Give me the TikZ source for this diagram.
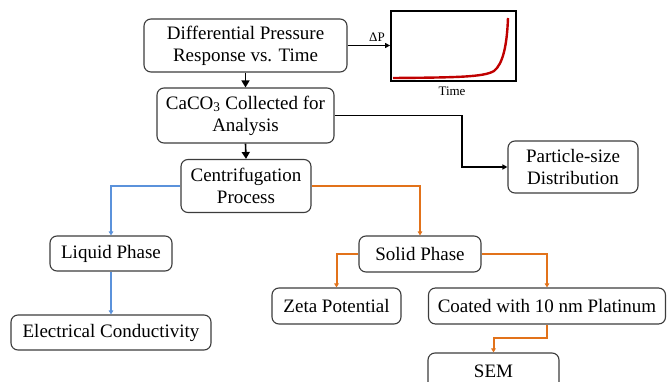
\documentclass[tikz,border=0pt]{standalone}
\usepackage{fontspec}
\setmainfont{Liberation Serif}
\usetikzlibrary{arrows.meta}
\definecolor{lblue}{RGB}{91,146,219}
\definecolor{lorange}{RGB}{226,114,26}
\definecolor{bordergray}{RGB}{60,60,60}
\definecolor{curvered}{RGB}{192,0,0}
\begin{document}
\begin{tikzpicture}[x=1pt,y=-1pt,
  box/.style={draw=bordergray, line width=1.1pt, rounded corners=7pt, fill=white,
    align=center, inner sep=0pt, font=\fontsize{19}{22}\selectfont},
  blk/.style={draw=black, line width=1.6pt, -{Triangle[length=7pt,width=8pt]}},
  thinblk/.style={draw=black, line width=1.3pt, -{Triangle[length=5pt,width=5pt]}},
  bl/.style={draw=lblue, line width=2pt, -{Triangle[length=4pt,width=4.5pt]}},
  org/.style={draw=lorange, line width=2pt, -{Triangle[length=4pt,width=4.5pt]}},
  small/.style={font=\fontsize{13}{15}\selectfont, inner sep=0pt}
]
\useasboundingbox (0,0) rectangle (667,382);
\begin{scope}
\clip (0,0) rectangle (667,382);
\node[box, minimum width=203pt, minimum height=53pt] (diff) at (245.5,45.5) {Differential Pressure\\Response vs. Time};
\node[box, minimum width=177pt, minimum height=55pt] (caco) at (245.5,115.5) {CaCO\textsubscript{3} Collected for\\Analysis};
\node[box, minimum width=130pt, minimum height=53pt] (centri) at (246,186) {Centrifugation\\Process};
\node[box, minimum width=130pt, minimum height=52pt] (particle) at (573,167) {Particle-size\\Distribution};
\node[box, minimum width=122pt, minimum height=35pt] (liquid) at (111,253.5) {Liquid Phase};
\node[box, minimum width=200pt, minimum height=35pt] (elec) at (111,332.5) {Electrical Conductivity};
\node[box, minimum width=122pt, minimum height=36pt] (solid) at (420,254) {Solid Phase};
\node[box, minimum width=129pt, minimum height=36pt] (zeta) at (336.5,306) {Zeta Potential};
\node[box, minimum width=237pt, minimum height=36pt] (coated) at (547,306) {Coated with 10 nm Platinum};
\node[box, minimum width=131pt, minimum height=36pt] (sem) at (493.5,371) {SEM};

% plot
\node[draw=black, line width=1.8pt, minimum width=125pt, minimum height=70pt, inner sep=0pt] (plot) at (453.5,46) {};
\draw[curvered, line width=2.4pt] (393,78) .. controls (458,77.5) and (484,77) .. (494,71) .. controls (503,64) and (507,45) .. (508,18);
\node[small] (dp) at (377,37) {ΔP};
\node[small] (time) at (452,91) {Time};

% black connectors
\draw[thinblk] (diff.east) -- (diff.east -| plot.west);
\draw[blk] (diff.south) -- (caco.north);
\draw[blk] (caco.south) -- (centri.north);
\coordinate (k1) at (462,115.5);
\draw[thinblk] (caco.east) -- (k1) |- (particle.west);

% coloured connectors
\draw[bl] (centri.west) -| (liquid.north);
\draw[bl] (liquid.south) -- (elec.north);
\draw[org] (centri.east) -| (solid.north);
\draw[org] (solid.west) -| (zeta.north);
\draw[org] (solid.east) -| (coated.north);
\coordinate (k2) at (547,338);
\draw[org] (coated.south) -- (k2) -| (sem.north);
\end{scope}
\end{tikzpicture}
\end{document}
